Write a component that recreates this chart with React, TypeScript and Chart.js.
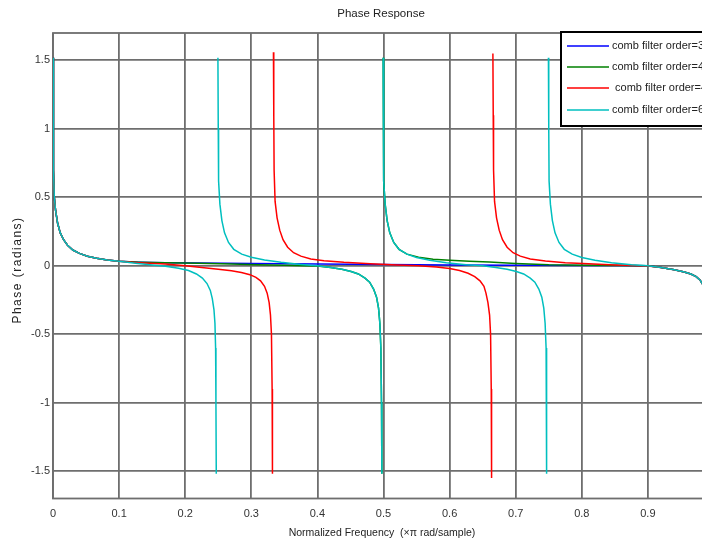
import React, { useEffect, useRef } from 'react';
import { Chart, registerables } from 'chart.js';
Chart.register(...registerables);

const titleText = 'Phase Response';
const xAxisTitle = 'Normalized Frequency  (\u00d7\u03c0 rad/sample)';
const yAxisTitle = 'Phase (radians)';
const xTicks = [0, 0.1, 0.2, 0.3, 0.4, 0.5, 0.6, 0.7, 0.8, 0.9, 1];
const yTicks = [-1.5, -1, -0.5, 0, 0.5, 1, 1.5];
const seriesLabels = ['comb filter order=3', 'comb filter order=4', ' comb filter order=4', 'comb filter order=6'];
const seriesColors = ['#0000ff', '#008000', '#ff0000', '#00bfbf'];

// shared start near 0 (all series)
const startFreq = [0, 0.0005, 0.001, 0.002, 0.004, 0.007, 0.011, 0.016, 0.022, 0.03, 0.04, 0.052, 0.066, 0.082, 0.1];
const startPhase = [1.52, 1.1, 0.7, 0.5, 0.4, 0.31, 0.24, 0.19, 0.15, 0.115, 0.09, 0.07, 0.055, 0.042, 0.032];
// shared end near 1
const endFreq = [0.92, 0.94, 0.955, 0.965, 0.973, 0.979, 0.984, 0.988, 0.992, 0.995, 0.997, 0.999, 1.0];
const endPhase = [-0.012, -0.03, -0.045, -0.06, -0.08, -0.105, -0.145, -0.2, -0.27, -0.38, -0.55, -1.0, -1.52];

const blueFreq = [0.13, 0.17, 0.22, 0.3, 0.4, 0.5, 0.6, 0.7, 0.8, 0.86, 0.9];
const bluePhase = [0.026, 0.022, 0.02, 0.017, 0.013, 0.009, 0.006, 0.004, 0.002, 0.001, 0.0];

const greenFreq = [0.13, 0.17, 0.22, 0.27, 0.31, 0.35, 0.38, 0.4, 0.42, 0.437, 0.451, 0.462, 0.472, 0.479, 0.485, 0.4895, 0.4925, 0.4945, 0.496, 0.497, 0.4975, 0.4985,
  0.4995, 0.5, 0.5005, 0.5025, 0.5055, 0.5095, 0.5155, 0.5235, 0.5355, 0.553, 0.575, 0.6, 0.63, 0.66, 0.7, 0.75, 0.8, 0.86, 0.9];
const greenPhase = [0.026, 0.022, 0.018, 0.013, 0.008, 0.003, 0.0, -0.001, -0.012, -0.025, -0.042, -0.06, -0.09, -0.12, -0.17, -0.23, -0.31, -0.42, -0.6, -1.0, -1.52, null,
  1.52, 1.0, 0.62, 0.45, 0.33, 0.24, 0.17, 0.12, 0.085, 0.062, 0.048, 0.04, 0.033, 0.027, 0.017, 0.007, 0.003, 0.001, 0.0];

const redFreq = [0.13, 0.17, 0.2, 0.225, 0.25, 0.27, 0.285, 0.298, 0.307, 0.314, 0.32, 0.324, 0.327, 0.329, 0.3305, 0.3315, 0.332, 0.333,
  0.3335, 0.334, 0.3345, 0.336, 0.339, 0.343, 0.348, 0.355, 0.364, 0.375, 0.39, 0.41, 0.44, 0.48, 0.52, 0.553, 0.58, 0.6, 0.615, 0.628, 0.638, 0.646, 0.652, 0.655, 0.658, 0.6605, 0.662, 0.663, 0.6635, 0.6645,
  0.6655, 0.666, 0.6665, 0.668, 0.671, 0.675, 0.68, 0.687, 0.696, 0.707, 0.722, 0.745, 0.775, 0.81, 0.85, 0.9];
const redPhase = [0.022, 0.012, 0.0, -0.013, -0.025, -0.037, -0.05, -0.065, -0.085, -0.11, -0.15, -0.2, -0.27, -0.36, -0.5, -0.9, -1.52, null,
  1.56, 1.1, 0.7, 0.47, 0.35, 0.26, 0.19, 0.135, 0.095, 0.07, 0.05, 0.037, 0.025, 0.015, 0.006, 0.0, -0.01, -0.02, -0.035, -0.055, -0.08, -0.11, -0.15, -0.2, -0.27, -0.36, -0.5, -0.9, -1.55, null,
  1.55, 1.1, 0.7, 0.47, 0.35, 0.26, 0.19, 0.135, 0.095, 0.07, 0.05, 0.035, 0.022, 0.014, 0.006, -0.002];

const cyanFreq = [0.125, 0.15, 0.17, 0.19, 0.205, 0.217, 0.226, 0.233, 0.238, 0.241, 0.2435, 0.245, 0.246, 0.2465, 0.247, 0.248,
  0.2495, 0.25, 0.2505, 0.2525, 0.2555, 0.2595, 0.2655, 0.2735, 0.2855, 0.3, 0.32, 0.345, 0.375, 0.4, 0.42, 0.437, 0.451, 0.462, 0.472, 0.479, 0.485, 0.4895, 0.4925, 0.4945, 0.496, 0.497, 0.4975, 0.4985,
  0.4995, 0.5, 0.5005, 0.5025, 0.5055, 0.5095, 0.5155, 0.5235, 0.5355, 0.55, 0.57, 0.595, 0.625, 0.65, 0.67, 0.687, 0.701, 0.712, 0.722, 0.729, 0.735, 0.7395, 0.7425, 0.7445, 0.746, 0.7465, 0.747, 0.748,
  0.7495, 0.75, 0.7505, 0.7525, 0.7555, 0.7595, 0.7655, 0.7735, 0.7855, 0.8, 0.82, 0.845, 0.875, 0.9];
const cyanPhase = [0.018, 0.006, -0.004, -0.018, -0.035, -0.06, -0.09, -0.13, -0.18, -0.24, -0.32, -0.42, -0.6, -1.0, -1.52, null,
  1.52, 1.0, 0.62, 0.45, 0.33, 0.24, 0.17, 0.12, 0.085, 0.062, 0.042, 0.025, 0.01, 0.0, -0.012, -0.025, -0.042, -0.06, -0.09, -0.12, -0.17, -0.23, -0.31, -0.42, -0.6, -1.0, -1.52, null,
  1.52, 1.0, 0.62, 0.45, 0.33, 0.24, 0.17, 0.12, 0.085, 0.06, 0.04, 0.022, 0.008, 0.0, -0.012, -0.025, -0.042, -0.06, -0.09, -0.12, -0.17, -0.23, -0.31, -0.42, -0.6, -1.0, -1.52, null,
  1.52, 1.0, 0.62, 0.45, 0.33, 0.24, 0.17, 0.12, 0.085, 0.06, 0.04, 0.022, 0.008, 0.0];

const seriesFreq = [blueFreq, greenFreq, redFreq, cyanFreq];
const seriesPhase = [bluePhase, greenPhase, redPhase, cyanPhase];

const FONT = '"Liberation Sans", Arial, sans-serif';
const W = 740;
const H = 543;
const GRID = '#6e6e6e';

function fmt(v: number): string {
  return String(Number(v.toFixed(2)));
}

const decor = {
  id: 'decor',
  beforeDatasetsDraw(chart: any) {
    const { ctx, chartArea: a } = chart;
    ctx.save();
    ctx.strokeStyle = GRID;
    ctx.lineWidth = 1.8;
    ctx.strokeRect(a.left, a.top, a.right - a.left, a.bottom - a.top);
    ctx.restore();
  },
  afterDraw(chart: any) {
    const { ctx } = chart;
    ctx.save();
    ctx.fillStyle = '#222';
    ctx.textAlign = 'center';
    ctx.textBaseline = 'middle';
    ctx.font = `11.5px ${FONT}`;
    ctx.fillText(titleText, 381, 14);
    ctx.font = `10.5px ${FONT}`;
    ctx.fillText(xAxisTitle, 382, 533);
    ctx.save();
    ctx.translate(18, 270);
    ctx.rotate(-Math.PI / 2);
    ctx.font = `12px ${FONT}`;
    (ctx as any).letterSpacing = '1.5px';
    ctx.fillText(yAxisTitle, 0, 0);
    ctx.restore();

    // legend
    const bx = 561, by = 32, bw = 220, bh = 94;
    ctx.fillStyle = '#fff';
    ctx.fillRect(bx, by, bw, bh);
    ctx.strokeStyle = '#000';
    ctx.lineWidth = 2;
    ctx.strokeRect(bx, by, bw, bh);
    const rows = [46, 67, 88, 110];
    ctx.font = `11px ${FONT}`;
    ctx.textAlign = 'left';
    seriesLabels.forEach((lab, i) => {
      ctx.strokeStyle = seriesColors[i];
      ctx.lineWidth = 1.6;
      ctx.beginPath();
      ctx.moveTo(567, rows[i]);
      ctx.lineTo(609, rows[i]);
      ctx.stroke();
      ctx.fillStyle = '#222';
      ctx.fillText(lab, 612, rows[i]);
    });
    ctx.restore();
  },
};

export default function App() {
  const ref = useRef<HTMLCanvasElement | null>(null);
  useEffect(() => {
    if (!ref.current) return;
    const datasets = seriesFreq.map((fr, si) => {
      const ph = seriesPhase[si];
      const xs = [...startFreq, ...fr, ...endFreq];
      const ys = [...startPhase, ...ph, ...endPhase];
      return {
        label: seriesLabels[si],
        data: xs.map((x, i) => ({ x, y: ys[i] })),
        borderColor: seriesColors[si],
        backgroundColor: seriesColors[si],
        borderWidth: 1.5,
        pointRadius: 0,
        fill: false,
        tension: 0,
        spanGaps: false,
        order: 3 - si,
      };
    });
    const chart = new Chart(ref.current, {
      type: 'line',
      data: { datasets },
      options: {
        animation: false,
        responsive: false,
        events: [],
        layout: { padding: { left: 0, top: 33, right: W - 714, bottom: 0 } },
        plugins: { legend: { display: false }, tooltip: { enabled: false }, title: { display: false } },
        scales: {
          x: {
            type: 'linear',
            min: 0,
            max: 1,
            afterBuildTicks: (ax: any) => { ax.ticks = xTicks.map((v) => ({ value: v })); },
            afterFit: (ax: any) => { ax.height = 44.5; },
            ticks: { autoSkip: false, maxRotation: 0, padding: 9, color: '#333', font: { family: FONT, size: 11 }, callback: (v: any) => fmt(Number(v)) },
            grid: { color: GRID, lineWidth: 1.8, drawTicks: false },
            border: { display: false },
          },
          y: {
            type: 'linear',
            min: -1.7,
            max: 1.7,
            afterBuildTicks: (ax: any) => { ax.ticks = yTicks.map((v) => ({ value: v })); },
            afterFit: (ax: any) => { ax.width = 53; },
            ticks: { padding: 3, color: '#333', font: { family: FONT, size: 11 }, callback: (v: any) => fmt(Number(v)) },
            grid: { color: GRID, lineWidth: 1.8, drawTicks: false },
            border: { display: false },
          },
        },
      },
      plugins: [decor],
    } as any);
    return () => chart.destroy();
  }, []);
  return (
    <div style={{ position: 'fixed', left: 0, top: 0, width: 702, height: 543, overflow: 'hidden', background: '#fff' }}>
      <canvas ref={ref} width={W} height={H} style={{ width: W, height: H, display: 'block' }} />
    </div>
  );
}
